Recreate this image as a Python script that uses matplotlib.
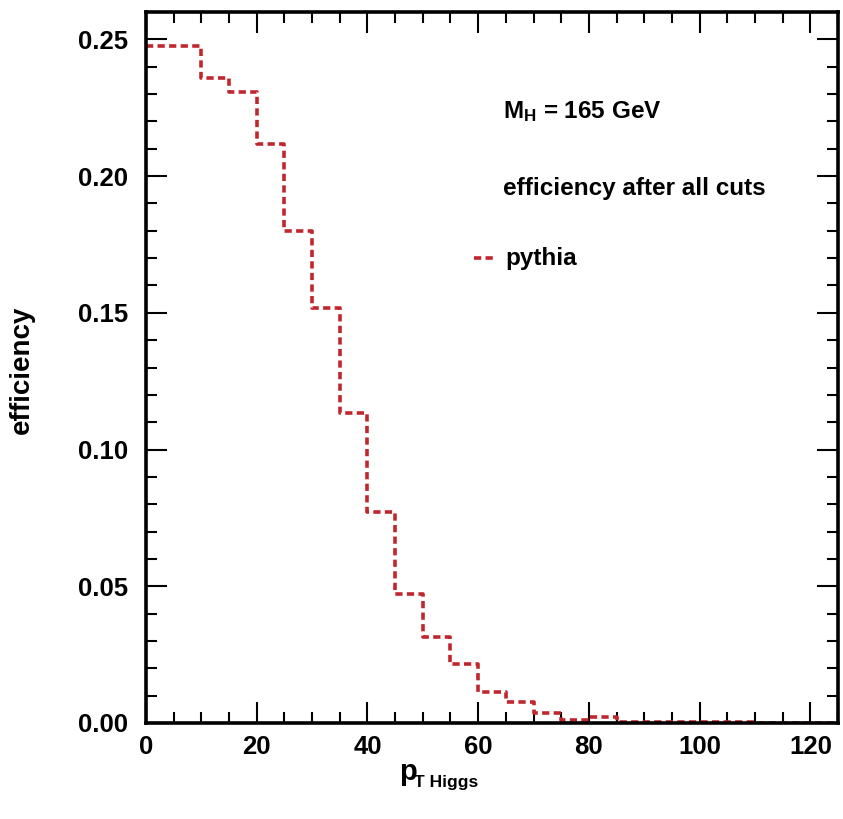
import numpy as np
import matplotlib
matplotlib.use("Agg")
import matplotlib.pyplot as plt
from matplotlib.ticker import MultipleLocator, FormatStrFormatter

# bin edges of the pT Higgs histogram (GeV) and efficiency per bin
bin_edges = np.arange(0, 130, 5)
efficiency = [0.2477, 0.2477, 0.236, 0.2308, 0.2118, 0.180, 0.1518, 0.1135,
              0.077, 0.047, 0.0314, 0.0215, 0.0112, 0.0075, 0.0035, 0.0012,
              0.0022, 0.0004, 0.0004, 0.0003, 0.0002, 0.0002, 0.0001, 0.0001,
              0.0001]

line_color = "#c0262c"

plt.rcParams['font.family'] = ['Liberation Sans', 'DejaVu Sans']
plt.rcParams['font.weight'] = 'bold'
plt.rcParams['mathtext.fontset'] = 'custom'
plt.rcParams['mathtext.rm'] = 'Liberation Sans:bold'
plt.rcParams['mathtext.bf'] = 'Liberation Sans:bold'
plt.rcParams['mathtext.it'] = 'Liberation Sans:bold'

fig = plt.figure(figsize=(8.43, 8.19), dpi=100)
ax = fig.add_axes([146 / 843, 1 - 723 / 819, (838 - 146) / 843, (723 - 12) / 819])

y_step = np.append(efficiency, efficiency[-1])
ax.step(bin_edges, y_step, where='post', color=line_color, lw=2.6,
        dashes=(2.0, 1.2))

ax.set_xlim(0, 125)
ax.set_ylim(0, 0.26)
ax.xaxis.set_major_locator(MultipleLocator(20))
ax.xaxis.set_minor_locator(MultipleLocator(5))
ax.yaxis.set_major_locator(MultipleLocator(0.05))
ax.yaxis.set_minor_locator(MultipleLocator(0.01))
ax.yaxis.set_major_formatter(FormatStrFormatter('%.2f'))

for s in ax.spines.values():
    s.set_linewidth(2.6)
ax.tick_params(which='both', direction='in', top=True, right=True,
               width=1.5, labelsize=18.5)
ax.tick_params(which='major', length=15)
ax.tick_params(which='minor', length=8)
ax.tick_params(axis='x', pad=9)
ax.tick_params(axis='y', pad=13)
for lbl in ax.get_xticklabels() + ax.get_yticklabels():
    lbl.set_fontweight('bold')

# axis titles
fig.text(22 / 843, 1 - 370 / 819, "efficiency", rotation=90, fontsize=20,
         fontweight='bold', ha='center', va='center')
fig.text(399 / 843, 1 - 772 / 819, "p", fontsize=21,
         fontweight='bold', ha='left', va='center')
fig.text(414 / 843, 1 - 782 / 819, "T Higgs", fontsize=12.5,
         fontweight='bold', ha='left', va='center')

# annotations
fig.text(503 / 843, 1 - 112 / 819, r"M$_{\mathrm{H}}$ = 165 GeV", fontsize=17.5,
         fontweight='bold', ha='left', va='center')
fig.text(503 / 843, 1 - 188 / 819, "efficiency after all cuts", fontsize=17.5,
         fontweight='bold', ha='left', va='center')
fig.text(505 / 843, 1 - 258 / 819, "pythia", fontsize=17.5,
         fontweight='bold', ha='left', va='center')
fig.add_artist(plt.Line2D([474 / 843, 497 / 843], [1 - 258 / 819, 1 - 258 / 819],
                          color=line_color, lw=2.6, dashes=(2.0, 1.2)))

fig.savefig("out.png", dpi=100)
